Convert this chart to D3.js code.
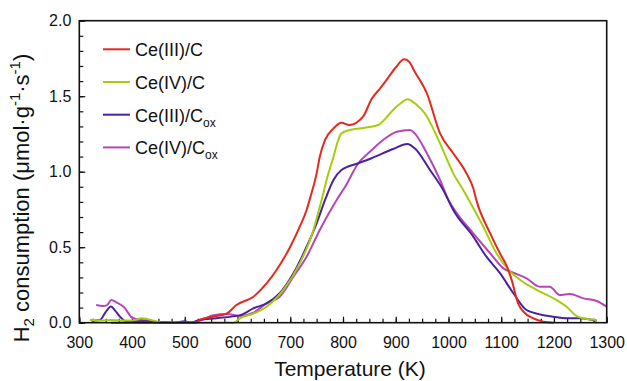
<!DOCTYPE html>
<html>
<head>
<meta charset="utf-8">
<script src="https://cdn.jsdelivr.net/npm/d3@7"></script>
<style>
  body { margin: 0; background: #fff; }
  svg { display: block; font-family: "Liberation Sans", Arial, Helvetica, sans-serif; }
</style>
</head>
<body>
<div id="chart"></div>
<script>
// temperature (K) and H2 consumption readings, one pair of arrays per sample
const ce3cT = [360, 450, 522, 529, 554, 580, 598, 630, 655, 674, 700, 718, 731, 738, 750, 756, 766, 782, 797, 812, 838, 854, 870, 883, 900, 916, 925, 936, 959, 984, 1009, 1034, 1047, 1053, 1079, 1101, 1110, 1120, 1132, 1142, 1161, 1180, 1199];
const ce3cV = [0, 0, 0, 0.02, 0.04, 0.062, 0.117, 0.172, 0.26, 0.349, 0.503, 0.636, 0.746, 0.83, 0.989, 1.099, 1.21, 1.287, 1.325, 1.309, 1.364, 1.48, 1.55, 1.61, 1.69, 1.744, 1.73, 1.662, 1.519, 1.254, 1.122, 0.989, 0.89, 0.81, 0.592, 0.437, 0.38, 0.28, 0.128, 0.073, 0.029, 0.007, 0];

const ce4cT = [320, 340, 360, 380, 400, 418, 440, 460, 500, 560, 592, 605, 630, 655, 687, 718, 744, 753, 760, 770, 782, 790, 797, 813, 840, 867, 880, 895, 910, 922, 940, 955, 984, 1009, 1028, 1047, 1066, 1091, 1117, 1136, 1167, 1205, 1224, 1243, 1256, 1281];
const ce4cV = [0.018, 0.015, 0.018, 0.015, 0.015, 0.029, 0.015, 0, 0, 0, 0, 0.03, 0.06, 0.106, 0.217, 0.393, 0.614, 0.73, 0.82, 0.96, 1.099, 1.2, 1.254, 1.276, 1.29, 1.309, 1.35, 1.409, 1.455, 1.479, 1.442, 1.387, 1.188, 0.989, 0.879, 0.76, 0.636, 0.46, 0.338, 0.283, 0.217, 0.15, 0.106, 0.044, 0.029, 0.018];

const ce3oxT = [323, 339, 350, 360, 368, 377, 390, 420, 450, 480, 500, 510, 529, 560, 605, 630, 655, 680, 706, 731, 750, 766, 782, 797, 829, 854, 895, 922, 936, 965, 990, 1009, 1047, 1072, 1098, 1123, 1148, 1155, 1180, 1199, 1224, 1250, 1281];
const ce3oxV = [0.013, 0.018, 0.07, 0.108, 0.08, 0.04, 0.007, 0.01, 0.005, 0, 0.01, 0, 0.02, 0.03, 0.05, 0.095, 0.128, 0.195, 0.327, 0.503, 0.658, 0.813, 0.945, 1.011, 1.056, 1.089, 1.15, 1.183, 1.155, 1.011, 0.879, 0.746, 0.57, 0.437, 0.327, 0.195, 0.084, 0.073, 0.05, 0.04, 0.03, 0.03, 0.013];

const ce4oxT = [332, 345, 352, 361, 370, 384, 402, 434, 460, 520, 540, 554, 580, 605, 630, 655, 680, 706, 731, 756, 788, 804, 829, 851, 876, 902, 927, 936, 959, 984, 1000, 1016, 1047, 1079, 1104, 1123, 1148, 1173, 1192, 1211, 1230, 1256, 1281, 1300];
const ce4oxV = [0.117, 0.11, 0.115, 0.15, 0.135, 0.106, 0.029, 0.011, 0, 0.005, 0.03, 0.05, 0.058, 0.044, 0.066, 0.128, 0.172, 0.305, 0.437, 0.614, 0.813, 0.9, 1.056, 1.132, 1.21, 1.265, 1.276, 1.254, 1.122, 0.945, 0.813, 0.724, 0.592, 0.46, 0.36, 0.331, 0.294, 0.238, 0.238, 0.183, 0.19, 0.161, 0.144, 0.106];

const seriesNames = ['Ce(III)/C', 'Ce(IV)/C', 'Ce(III)/C', 'Ce(IV)/C'];
const seriesSubs = ['', '', 'ox', 'ox'];
const seriesColors = ['#e4291f', '#a6cc0e', '#4a22a0', '#b545b8'];

const xTicks = [300, 400, 500, 600, 700, 800, 900, 1000, 1100, 1200, 1300];
const yTicks = [0, 0.5, 1.0, 1.5, 2.0];

const width = 627, height = 381;
const margin = { top: 20.7, right: 20.3, bottom: 58.3, left: 79.3 };
const innerW = width - margin.left - margin.right;
const innerH = height - margin.top - margin.bottom;

const svg = d3.select('#chart')
  .append('svg')
  .attr('width', width)
  .attr('height', height);

const g = svg.append('g')
  .attr('transform', `translate(${margin.left},${margin.top})`);

const x = d3.scaleLinear().domain([300, 1300]).range([0, innerW]);
const y = d3.scaleLinear().domain([0, 2]).range([innerH, 0]);

// minor ticks, inward
g.append('g')
  .attr('transform', `translate(0,${innerH})`)
  .call(d3.axisBottom(x).tickValues(d3.range(300, 1301, 25)).tickSize(-4).tickFormat(''))
  .call(a => a.select('.domain').remove());
g.append('g')
  .call(d3.axisLeft(y).tickValues(d3.range(0, 2.001, 0.1)).tickSize(-4).tickFormat(''))
  .call(a => a.select('.domain').remove());

// major ticks + labels
const xAxis = g.append('g')
  .attr('transform', `translate(0,${innerH})`)
  .call(d3.axisBottom(x).tickValues(xTicks).tickSize(-6).tickPadding(14).tickFormat(d3.format('d')));
xAxis.select('.domain').remove();
xAxis.selectAll('text').attr('font-size', 16).attr('fill', '#111').attr('font-family', null);

const yAxis = g.append('g')
  .call(d3.axisLeft(y).tickValues(yTicks).tickSize(-6).tickPadding(8).tickFormat(d3.format('.1f')));
yAxis.select('.domain').remove();
yAxis.selectAll('text').attr('font-size', 16).attr('fill', '#111').attr('font-family', null);

g.selectAll('.tick line').attr('stroke', '#111').attr('stroke-width', 1.2);

// curves
const line = d3.line()
  .x(d => x(d[0]))
  .y(d => y(d[1]))
  .curve(d3.curveMonotoneX);

const allSeries = [
  d3.zip(ce3cT, ce3cV),
  d3.zip(ce4cT, ce4cV),
  d3.zip(ce3oxT, ce3oxV),
  d3.zip(ce4oxT, ce4oxV)
];

const plotArea = g.append('g');
[3, 2, 1, 0].forEach(i => {
  plotArea.append('path')
    .datum(allSeries[i])
    .attr('fill', 'none')
    .attr('stroke', seriesColors[i])
    .attr('stroke-width', 2)
    .attr('stroke-linejoin', 'round')
    .attr('d', line);
});

// frame
g.append('rect')
  .attr('width', innerW)
  .attr('height', innerH)
  .attr('fill', 'none')
  .attr('stroke', '#111')
  .attr('stroke-width', 1.6);

// legend
const legend = svg.append('g').attr('transform', 'translate(103,49.3)');
seriesNames.forEach((name, i) => {
  const item = legend.append('g').attr('transform', `translate(0,${i * 32.7})`);
  item.append('line')
    .attr('x1', 0).attr('x2', 27)
    .attr('stroke', seriesColors[i])
    .attr('stroke-width', 2);
  const t = item.append('text')
    .attr('x', 32)
    .attr('y', 7)
    .attr('font-size', 18)
    .attr('fill', '#111')
    .text(name);
  if (seriesSubs[i]) {
    t.append('tspan')
      .attr('font-size', 12)
      .attr('dy', 5)
      .text(seriesSubs[i]);
  }
});

// axis titles
svg.append('text')
  .attr('x', 350)
  .attr('y', 376)
  .attr('text-anchor', 'middle')
  .attr('font-size', 21)
  .attr('fill', '#111')
  .text('Temperature (K)');

const yTitle = svg.append('text')
  .attr('transform', 'translate(28.5,198) rotate(-90)')
  .attr('text-anchor', 'middle')
  .attr('font-size', 22)
  .attr('fill', '#111');
yTitle.append('tspan').text('H');
yTitle.append('tspan').attr('font-size', 15).attr('dy', 5).text('2');
yTitle.append('tspan').attr('dy', -5).text(' consumption (μmol·g');
yTitle.append('tspan').attr('font-size', 15).attr('dy', -9).text('-1');
yTitle.append('tspan').attr('dy', 9).text('·s');
yTitle.append('tspan').attr('font-size', 15).attr('dy', -9).text('-1');
yTitle.append('tspan').attr('dy', 9).text(')');
</script>
</body>
</html>
